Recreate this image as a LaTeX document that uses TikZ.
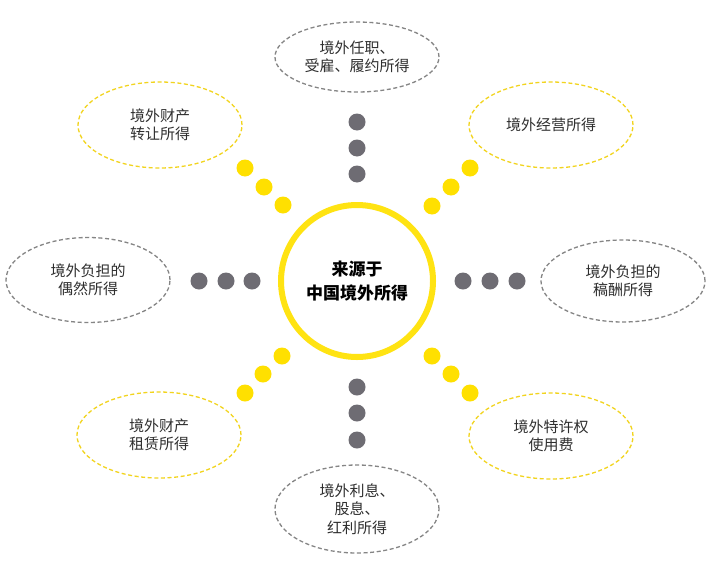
\documentclass[tikz,border=0pt]{standalone}
\usepackage{fontspec}
\newfontfamily\cjk{Noto Sans CJK SC}
\usetikzlibrary{shapes.geometric}
\definecolor{ringY}{HTML}{FFE312}
\definecolor{dotY}{HTML}{FFE000}
\definecolor{dashY}{HTML}{F2D41E}
\definecolor{dotG}{HTML}{6E6C73}
\definecolor{dashG}{HTML}{858585}
\definecolor{txt}{HTML}{2E2E2E}
\begin{document}
\begin{tikzpicture}[x=1pt,y=-1pt,
  lbl/.style={ellipse, inner sep=0pt, minimum width=164pt, minimum height=86pt,
    line width=1.3pt, dash pattern=on 4pt off 2.6pt, align=center, text=txt,
    font=\cjk\fontsize{15}{18.5}\selectfont},
  ylbl/.style={lbl, draw=dashY},
  glbl/.style={lbl, draw=dashG},
  ydot/.style={circle, fill=dotY, minimum size=17pt, inner sep=0pt},
  gdot/.style={circle, fill=dotG, minimum size=17pt, inner sep=0pt}]
\useasboundingbox (0,0) rectangle (719,562);
\fill[white] (0,0) rectangle (719,562);

% centre
\node[circle, draw=ringY, line width=6pt, minimum size=152pt, inner sep=0pt,
  align=center, font=\cjk\bfseries\fontsize{17}{24}\selectfont] (c) at (357,281)
  {来源于\\中国境外所得};

% outer ellipses
\node[glbl, minimum height=70pt] (t) at (357,57) {境外任职、\\受雇、履约所得};
\node[ylbl] (tl) at (160,125) {境外财产\\转让所得};
\node[ylbl] (tr) at (551,125) {境外经营所得};
\node[glbl, minimum height=85pt] (l) at (88,280) {境外负担的\\偶然所得};
\node[glbl, minimum height=82pt] (r) at (623,281) {境外负担的\\稿酬所得};
\node[ylbl] (bl) at (159,435) {境外财产\\租赁所得};
\node[ylbl] (br) at (551,436) {境外特许权\\使用费};
\node[glbl, minimum height=88pt] (b) at (357,509) {境外利息、\\股息、\\红利所得};

% dots
\node[gdot] (t1) at (357,122) {};
\node[gdot] (t2) at (357,148) {};
\node[gdot] (t3) at (357,174) {};
\node[gdot] (b1) at (357,387) {};
\node[gdot] (b2) at (357,413) {};
\node[gdot] (b3) at (357,440) {};
\node[gdot] (l1) at (199,281) {};
\node[gdot] (l2) at (226,281) {};
\node[gdot] (l3) at (252,281) {};
\node[gdot] (r1) at (463,281) {};
\node[gdot] (r2) at (490,281) {};
\node[gdot] (r3) at (517,281) {};
\node[ydot] (tl1) at (245,168) {};
\node[ydot] (tl2) at (264,187) {};
\node[ydot] (tl3) at (283,205) {};
\node[ydot] (tr1) at (470,168) {};
\node[ydot] (tr2) at (451,187) {};
\node[ydot] (tr3) at (432,206) {};
\node[ydot] (bl1) at (282,356) {};
\node[ydot] (bl2) at (263,374) {};
\node[ydot] (bl3) at (245,393) {};
\node[ydot] (br1) at (432,356) {};
\node[ydot] (br2) at (451,374) {};
\node[ydot] (br3) at (470,393) {};
\end{tikzpicture}
\end{document}
